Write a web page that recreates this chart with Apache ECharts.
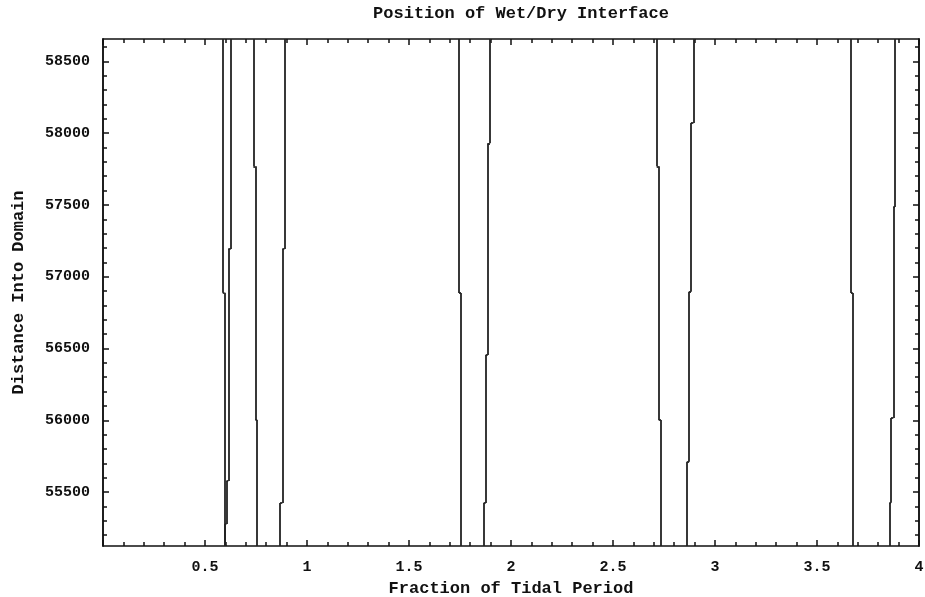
<!DOCTYPE html>
<html>
<head>
    <meta charset="utf-8">
    <style>
        html, body { width: 100%; height: 100%; margin: 0; background: #fff; }
        #chart-panel { width: 925px; height: 597px; }
    </style>
    <script src="https://cdnjs.cloudflare.com/ajax/libs/echarts/6.0.0/echarts.min.js"></script>
</head>
<body>
<div id="chart-panel"></div>
<script type="text/javascript">
  // domain covered by the plot (distance into domain)
  var yMin = 55125
  var yMax = 58655

  var xTickLabels = [0.5, 1, 1.5, 2, 2.5, 3, 3.5, 4]
  var yTickLabels = [55500, 56000, 56500, 57000, 57500, 58000, 58500]

  // each interface: [fraction of tidal period, distance where this step ends]
  var front1 = [[0.587, 56888], [0.595, yMin]]
  var front2 = [[0.626, 57192], [0.614, 55577], [0.605, 55278], [0.599, yMin]]
  var front3 = [[0.737, 57769], [0.747, 56002], [0.756, yMin]]
  var front4 = [[0.889, 57192], [0.879, 55424], [0.868, yMin]]
  var front5 = [[1.745, 56886], [1.755, yMin]]
  var front6 = [[1.897, 57929], [1.886, 56454], [1.876, 55424], [1.866, yMin]]
  var front7 = [[2.714, 57769], [2.724, 56002], [2.735, yMin]]
  var front8 = [[2.894, 58071], [2.882, 56895], [2.873, 55712], [2.863, yMin]]
  var front9 = [[3.667, 56886], [3.675, yMin]]
  var front10 = [[3.882, 57486], [3.874, 56016], [3.863, 55426], [3.855, yMin]]

  var fronts = [front1, front2, front3, front4, front5, front6, front7, front8, front9, front10]

  // split a step list into straight segments (vertical runs + small jogs)
  function stepSegments(steps) {
    var segs = []
    var yStart = yMax
    steps.forEach(function (s, i) {
      segs.push({coords: [[s[0], yStart], [s[0], s[1]]]})
      if (i + 1 < steps.length) {
        segs.push({coords: [[s[0], s[1]], [steps[i + 1][0], s[1]]]})
      }
      yStart = s[1]
    })
    return segs
  }

  var segments = []
  fronts.forEach(function (f) { segments = segments.concat(stepSegments(f)) })

  var yMinorTicks = []
  for (var v = 55200; v <= 58600; v += 100) yMinorTicks.push(v)

  var font = 'Liberation Mono'
  var ink = '#111'

  var myChart = echarts.init(document.getElementById('chart-panel'))

  function xAxisDef(pos, labels) {
    return {
      type: 'value',
      position: pos,
      min: 0,
      max: 4,
      interval: 0.5,
      name: labels ? 'Fraction of Tidal Period' : '',
      nameLocation: 'middle',
      nameGap: 26,
      nameTextStyle: {fontFamily: font, fontSize: 17, fontWeight: 'bold', color: ink},
      axisLine: {show: true, lineStyle: {color: ink, width: 1.5}},
      axisTick: {show: true, inside: true, length: 6, lineStyle: {color: ink, width: 1.5}},
      minorTick: {show: true, splitNumber: 5, length: 4, lineStyle: {color: ink, width: 1.5}},
      axisLabel: {
        show: labels,
        showMinLabel: true,
        showMaxLabel: true,
        margin: 14,
        fontFamily: font, fontSize: 15, fontWeight: 'bold', color: ink,
        customValues: xTickLabels,
        formatter: function (val) { return String(val) }
      },
      splitLine: {show: false}
    }
  }

  function yAxisDef(pos, ticks, len, labels) {
    return {
      type: 'value',
      position: pos,
      min: yMin,
      max: yMax,
      name: labels ? 'Distance Into Domain' : '',
      nameLocation: 'middle',
      nameGap: 76,
      nameTextStyle: {fontFamily: font, fontSize: 17, fontWeight: 'bold', color: ink},
      axisLine: {show: true, lineStyle: {color: ink, width: 1.5}},
      axisTick: {show: true, inside: true, length: len, customValues: ticks, lineStyle: {color: ink, width: 1.5}},
      axisLabel: {
        show: labels,
        margin: 13,
        fontFamily: font, fontSize: 15, fontWeight: 'bold', color: ink,
        customValues: yTickLabels,
        formatter: function (val) { return String(val) }
      },
      splitLine: {show: false}
    }
  }

  var option = {
    animation: false,
    backgroundColor: '#fff',
    title: {
      text: 'Position of Wet/Dry Interface',
      left: 516,
      textAlign: 'center',
      top: 0,
      textStyle: {fontFamily: font, fontSize: 17, fontWeight: 'bold', color: ink}
    },
    grid: {
      left: 103,
      right: 6,
      top: 39,
      bottom: 51,
      outerBoundsMode: 'none'
    },
    xAxis: [xAxisDef('bottom', true), xAxisDef('top', false)],
    yAxis: [
      yAxisDef('left', yTickLabels, 6, true),
      yAxisDef('left', yMinorTicks, 4, false),
      yAxisDef('right', yTickLabels, 6, false),
      yAxisDef('right', yMinorTicks, 4, false)
    ],
    series: [{
      name: 'Wet/Dry interface',
      type: 'lines',
      coordinateSystem: 'cartesian2d',
      xAxisIndex: 0,
      yAxisIndex: 0,
      lineStyle: {color: '#222', width: 1.8, opacity: 1, curveness: 0},
      data: segments
    }]
  }

  myChart.setOption(option)
</script>
</body>
</html>
